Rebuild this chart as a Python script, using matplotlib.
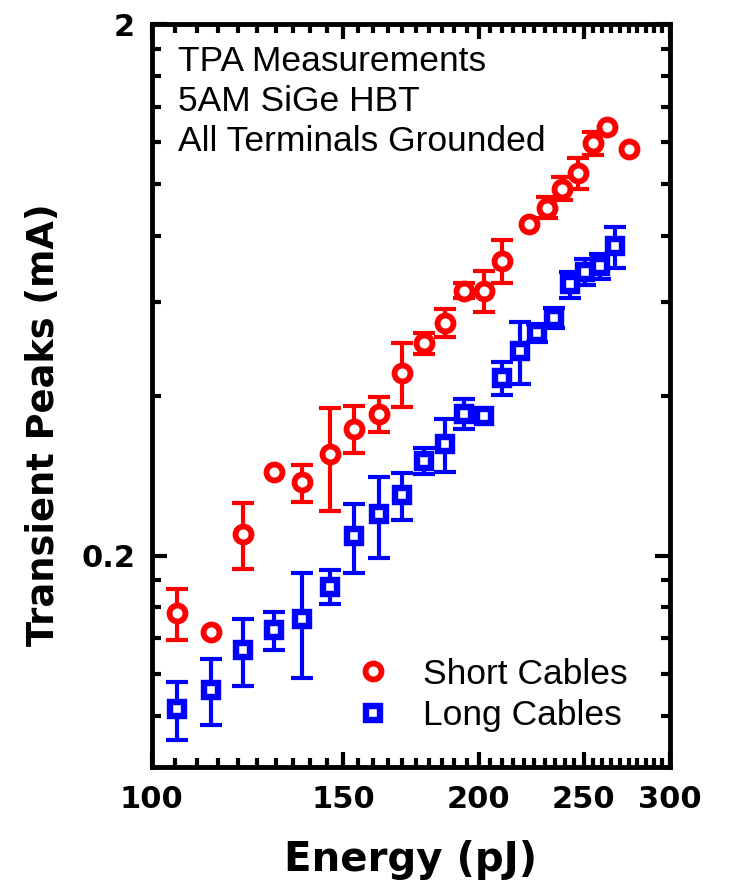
import matplotlib.pyplot as plt
import numpy as np
from matplotlib.ticker import FixedLocator, FixedFormatter, NullFormatter

# Short cables (red circles)
energy_short = [105.4, 113.3, 121.3, 129.5, 137.4, 145.9, 153.5, 161.8, 169.9, 178.0, 186.1,
                193.8, 202.1, 210.0, 222.4, 231.0, 238.5, 246.8, 254.8, 262.4, 274.9]
peak_short = [0.156, 0.144, 0.220, 0.287, 0.275, 0.311, 0.347, 0.370, 0.442, 0.502, 0.549,
              0.631, 0.631, 0.719, 0.844, 0.904, 0.982, 1.052, 1.194, 1.280, 1.168]
err_short = [0.017, 0, 0.031, 0, 0.022, 0.068, 0.035, 0.028, 0.061, 0.023, 0.033,
             0.020, 0.055, 0.067, 0, 0.041, 0.049, 0.071, 0.060, 0, 0]

# Long cables (blue squares)
energy_long = [105.4, 113.3, 121.3, 129.5, 137.4, 145.9, 153.5, 161.8, 169.9, 178.0, 186.1,
               193.8, 202.1, 210.0, 218.2, 226.2, 234.5, 242.6, 250.4, 258.5, 266.9]
peak_long = [0.103, 0.112, 0.133, 0.145, 0.152, 0.175, 0.218, 0.240, 0.260, 0.302, 0.325,
             0.370, 0.367, 0.433, 0.486, 0.526, 0.561, 0.648, 0.685, 0.703, 0.764]
err_long = [0.013, 0.016, 0.019, 0.012, 0.034, 0.013, 0.032, 0.042, 0.026, 0.017, 0.037,
            0.024, 0, 0.031, 0.065, 0.020, 0.024, 0.036, 0.039, 0.038, 0.068]

x_ticks = [100, 150, 200, 250, 300]
x_labels = ['100', '150', '200', '250', '300']
y_ticks = [0.2, 2]
y_labels = ['0.2', '2']

plt.rcParams['font.family'] = 'DejaVu Sans'
plt.rcParams['font.weight'] = 'bold'

fig = plt.figure(figsize=(7.3, 8.83), dpi=100)
ax = fig.add_axes([0.208, 0.131, 0.7096, 0.8414])


def draw(x, y, err, color, marker, ms, mew, label):
    x, y, err = np.asarray(x), np.asarray(y), np.asarray(err)
    has = err > 0
    ax.errorbar(x[has], y[has], yerr=err[has], fmt='none', ecolor=color,
                elinewidth=3, capsize=8, capthick=3, zorder=2)
    ax.plot(x, y, linestyle='none', marker=marker, ms=ms, mew=mew,
            mec=color, mfc='white', label=label, zorder=3)


draw(energy_short, peak_short, err_short, '#ff0000', 'o', 11.5, 4.2, 'Short Cables')
draw(energy_long, peak_long, err_long, '#0000ff', 's', 10.3, 4.6, 'Long Cables')

ax.set_xscale('log')
ax.set_yscale('log')
ax.set_xlim(100, 300)
ax.set_ylim(0.08, 2)

ax.xaxis.set_major_locator(FixedLocator(x_ticks))
ax.xaxis.set_major_formatter(FixedFormatter(x_labels))
ax.xaxis.set_minor_locator(FixedLocator(np.arange(105, 300, 5)))
ax.xaxis.set_minor_formatter(NullFormatter())
ax.yaxis.set_major_locator(FixedLocator(y_ticks))
ax.yaxis.set_major_formatter(FixedFormatter(y_labels))
ax.yaxis.set_minor_locator(FixedLocator(list(np.arange(0.10, 0.19, 0.02)) +
                                        list(np.arange(0.4, 1.9, 0.2))))
ax.yaxis.set_minor_formatter(NullFormatter())

ax.tick_params(which='both', direction='in', top=True, right=True, width=3)
ax.tick_params(which='major', length=11, labelsize=22)
ax.tick_params(which='minor', length=6.5)
ax.tick_params(axis='x', which='major', pad=13)
ax.tick_params(axis='y', which='major', pad=12)
for s in ax.spines.values():
    s.set_linewidth(3.5)

ax.set_xlabel('Energy (pJ)', fontsize=29, fontweight='bold')
ax.xaxis.set_label_coords(0.5, -0.0975)
ax.set_ylabel('Transient Peaks (mA)', fontsize=26.5, fontweight='bold')
ax.yaxis.set_label_coords(-0.174, 0.461)

ax.text(0.05, 0.972, 'TPA Measurements\n5AM SiGe HBT\nAll Terminals Grounded',
        transform=ax.transAxes, ha='left', va='top', fontsize=25.5,
        family='Liberation Sans', fontweight='normal', linespacing=1.26)

ax.legend(loc='lower right', bbox_to_anchor=(0.98, 0.004), frameon=False,
          prop={'family': 'Liberation Sans', 'weight': 'normal', 'size': 25.5},
          handletextpad=0.9, labelspacing=0.25, handlelength=1.0)

fig.savefig('out.png', dpi=100)
